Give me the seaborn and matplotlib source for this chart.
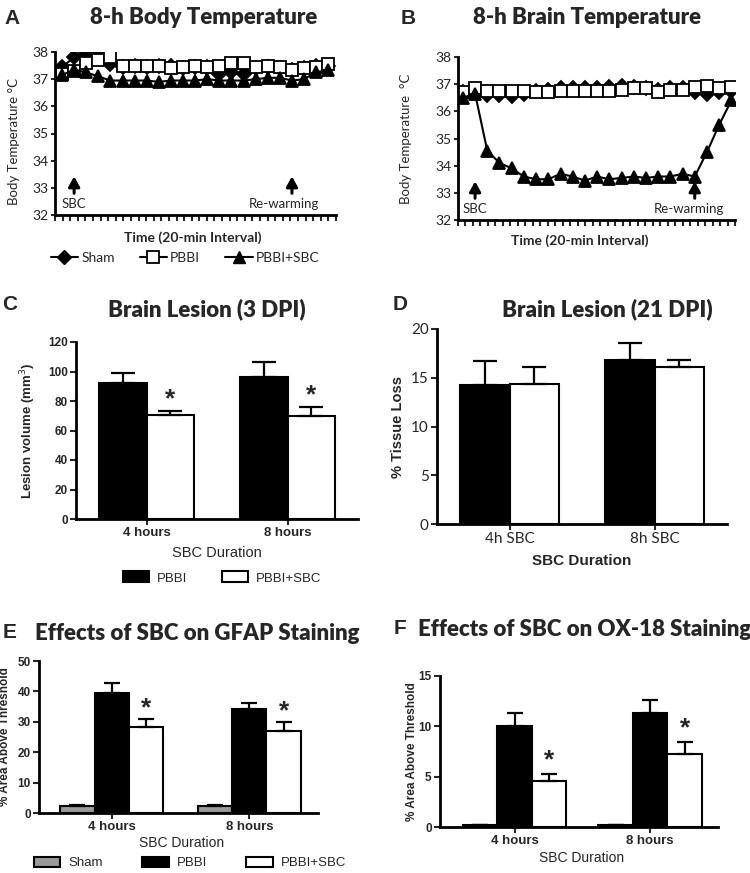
import numpy as np
import pandas as pd
import matplotlib
matplotlib.use("Agg")
import matplotlib.pyplot as plt
import seaborn as sns
from matplotlib.lines import Line2D
from matplotlib.patches import Patch

W, H = 750, 873

# ---------------------------------------------------------------------------
# Data
# ---------------------------------------------------------------------------

# Panels A/B: temperature readings every 20 min
interval = list(range(23))
body_sham = [37.45, 37.8, 37.95, 37.95, 37.55, 37.45, 37.5, 37.45, 37.5, 37.5, 37.4, 37.45,
             37.45, 37.2, 37.25, 37.2, 37.4, 37.45, 37.4, 37.35, 37.4, 37.5, 37.5]
body_pbbi = [37.2, 37.3, 37.6, 37.7, 37.8, 37.5, 37.5, 37.5, 37.5, 37.4, 37.45, 37.5,
             37.45, 37.5, 37.6, 37.6, 37.45, 37.5, 37.45, 37.35, 37.4, 37.45, 37.55]
body_sbc = [37.15, 37.35, 37.25, 37.1, 36.95, 36.95, 36.95, 36.95, 36.9, 36.95, 36.95, 36.95,
            37.0, 36.95, 36.95, 36.95, 37.0, 37.05, 37.05, 36.95, 37.0, 37.25, 37.35]
brain_sham = [36.7, 36.8, 36.6, 36.6, 36.55, 36.65, 36.75, 36.8, 36.85, 36.85, 36.85, 36.85,
              36.9, 36.95, 36.9, 36.85, 36.8, 36.85, 36.85, 36.7, 36.65, 36.7, 36.75]
brain_pbbi = [36.7, 36.85, 36.75, 36.75, 36.75, 36.75, 36.7, 36.7, 36.75, 36.75, 36.75, 36.75,
              36.75, 36.8, 36.85, 36.85, 36.7, 36.8, 36.8, 36.9, 36.95, 36.85, 36.9]
brain_sbc = [36.5, 36.65, 34.55, 34.1, 33.9, 33.6, 33.5, 33.5, 33.7, 33.6, 33.45, 33.6,
             33.5, 33.55, 33.6, 33.55, 33.6, 33.6, 33.7, 33.6, 34.5, 35.5, 36.4]
sbc_start = 1
rewarm_start = 19

# Panel C: lesion volume at 3 DPI
dur_hours = ["4 hours", "8 hours"]
lesion_pbbi = [92.5, 96.5]
lesion_pbbi_sem = [6.5, 9.8]
lesion_sbc = [70.2, 69.5]
lesion_sbc_sem = [3.2, 6.3]

# Panel D: tissue loss at 21 DPI
dur_sbc = ["4h SBC", "8h SBC"]
loss_pbbi = [14.3, 16.85]
loss_pbbi_sem = [2.4, 1.7]
loss_sbc = [14.4, 16.1]
loss_sbc_sem = [1.7, 0.7]

# Panel E: GFAP staining
gfap_sham = [2.4, 2.4]
gfap_sham_sem = [0.3, 0.3]
gfap_pbbi = [39.6, 34.3]
gfap_pbbi_sem = [3.3, 1.9]
gfap_sbc = [28.2, 27.0]
gfap_sbc_sem = [2.7, 2.9]

# Panel F: OX-18 staining
ox_sham = [0.15, 0.15]
ox_sham_sem = [0.05, 0.05]
ox_pbbi = [10.0, 11.35]
ox_pbbi_sem = [1.35, 1.25]
ox_sbc = [4.58, 7.25]
ox_sbc_sem = [0.7, 1.2]

# ---------------------------------------------------------------------------
# Style
# ---------------------------------------------------------------------------

sns.set_theme(style="ticks")
plt.rcParams["font.family"] = ["Liberation Sans", "DejaVu Sans"]
plt.rcParams["axes.linewidth"] = 2.0
plt.rcParams["xtick.major.width"] = 1.5
plt.rcParams["ytick.major.width"] = 1.5
plt.rcParams["axes.edgecolor"] = "black"

CAL = ["Lato", "DejaVu Sans"]
ARIAL = ["Liberation Sans", "DejaVu Sans"]
GREY = "#999999"


def fx(px):
    return px / W


def fy(py):
    return 1 - py / H


def add_axes(fig, left, top, right, bottom):
    return fig.add_axes([fx(left), fy(bottom), (right - left) / W, (bottom - top) / H])


fig = plt.figure(figsize=(W / 100, H / 100), dpi=100)


# ---------------------------------------------------------------------------
# Temperature panels
# ---------------------------------------------------------------------------

def temp_panel(ax, sham, pbbi, sbc, xlim, sbc_lbl_x, rew_lbl_x):
    for vals, mk, fc, ms in [(sham, "D", "black", 7.5), (pbbi, "s", "white", 9),
                             (sbc, "^", "black", 9)]:
        sns.lineplot(x=interval, y=vals, ax=ax, color="black", lw=1.5, marker=mk,
                     markersize=ms, markerfacecolor=fc, markeredgecolor="black",
                     markeredgewidth=1.3)
    ax.set_xlim(*xlim)
    ax.set_ylim(32, 38)
    ax.set_yticks(range(32, 39))
    ax.set_xticks(np.linspace(xlim[0], xlim[1], 38))
    ax.set_xticklabels([])
    ax.tick_params(axis="x", length=4, width=1.5, direction="out")
    ax.tick_params(axis="y", length=3, width=1.5, labelsize=10, pad=2)
    for t in ax.get_yticklabels():
        t.set_family(CAL)
    sns.despine(ax=ax)
    # SBC / re-warming markers
    for xa in (sbc_start, rewarm_start):
        ax.annotate("", xy=(xa, 33.42), xytext=(xa, 32.8),
                    arrowprops=dict(arrowstyle="-|>,head_length=0.5,head_width=0.28",
                                    color="black", lw=2.2, mutation_scale=12,
                                    shrinkA=0, shrinkB=0))
    ax.text(sbc_lbl_x, 32.42, "SBC", ha="center", va="center", fontsize=9.5, family=CAL)
    ax.text(rew_lbl_x, 32.42, "Re-warming", ha="center", va="center", fontsize=9.5,
            family=CAL)


axA = add_axes(fig, 55, 52, 336, 215)
temp_panel(axA, body_sham, body_pbbi, body_sbc, (-0.58, 22.64), 1.0, 18.35)
axA.set_ylabel("Body Temperature °C", fontsize=9.5, family=CAL)
axA.yaxis.set_label_coords(-0.125, 0.45)
axA.set_xlabel("Time (20-min Interval)", fontsize=10, family=CAL, fontweight="bold")
axA.xaxis.set_label_coords(0.49, -0.1)

axB = add_axes(fig, 458, 57, 735, 220)
temp_panel(axB, brain_sham, brain_pbbi, brain_sbc, (-0.4, 22.3), 1.0, 18.5)
axB.set_ylabel("Body Temperature  °C", fontsize=9.5, family=CAL)
axB.yaxis.set_label_coords(-0.165, 0.5)
axB.set_xlabel("Time (20-min Interval)", fontsize=10, family=CAL, fontweight="bold")
axB.xaxis.set_label_coords(0.44, -0.085)

temp_handles = [
    Line2D([0], [0], color="black", lw=1.5, marker="D", markersize=7.5,
           markerfacecolor="black", markeredgecolor="black"),
    Line2D([0], [0], color="black", lw=1.5, marker="s", markersize=9,
           markerfacecolor="white", markeredgecolor="black", markeredgewidth=1.3),
    Line2D([0], [0], color="black", lw=1.5, marker="^", markersize=9,
           markerfacecolor="black", markeredgecolor="black"),
]
fig.legend(temp_handles, ["Sham", "PBBI", "PBBI+SBC"], loc="center",
           bbox_to_anchor=(fx(185), fy(258)), ncol=3, frameon=False,
           handlelength=2.0, handletextpad=0.2, columnspacing=1.8,
           prop={"family": CAL, "size": 10})


# ---------------------------------------------------------------------------
# Bar panels
# ---------------------------------------------------------------------------

def bar_panel(ax, cats, groups, means, sems, colors, width, capsize, star_pad,
              ylim, yticks, xlim):
    rows = []
    for g, m in zip(groups, means):
        for c, v in zip(cats, m):
            rows.append({"dur": c, "grp": g, "val": v})
    df = pd.DataFrame(rows)
    sns.barplot(data=df, x="dur", y="val", hue="grp", hue_order=groups,
                palette=dict(zip(groups, colors)), width=width, edgecolor="black",
                linewidth=1.5, errorbar=None, saturation=1, legend=False, ax=ax)
    bars = list(ax.containers)
    for cont, sem in zip(bars, sems):
        xs = [p.get_x() + p.get_width() / 2 for p in cont]
        hs = [p.get_height() for p in cont]
        ax.errorbar(xs, hs, yerr=[np.zeros(len(sem)), sem], fmt="none", ecolor="black",
                    elinewidth=1.6, capsize=capsize, capthick=1.6, zorder=1)
    if star_pad is not None:
        for p, s in zip(bars[-1], sems[-1]):
            ax.text(p.get_x() + p.get_width() / 2, p.get_height() + s + star_pad, "*",
                    ha="center", va="center", fontsize=19, fontweight="bold",
                    family=ARIAL)
    ax.set_ylim(*ylim)
    ax.set_yticks(yticks)
    ax.set_xlim(*xlim)
    ax.tick_params(axis="both", length=4, width=1.5, direction="out", pad=2)
    sns.despine(ax=ax)


# C
axC = add_axes(fig, 76, 342, 358, 519)
bar_panel(axC, dur_hours, ["PBBI", "PBBI+SBC"], [lesion_pbbi, lesion_sbc],
          [lesion_pbbi_sem, lesion_sbc_sem], ["black", "white"], 0.68, 8.5, 8.0,
          (0, 120), range(0, 121, 20), (-0.5, 1.5))
axC.tick_params(axis="y", labelsize=8.5)
axC.tick_params(axis="x", labelsize=9.5)
for t in axC.get_yticklabels() + axC.get_xticklabels():
    t.set_fontweight("bold")
axC.set_ylabel("Lesion volume (mm$^3$)", fontsize=9.5, fontweight="bold")
axC.yaxis.set_label_coords(-0.135, 0.5)
axC.set_xlabel("SBC Duration", fontsize=10.5)
axC.xaxis.set_label_coords(0.5, -0.15)

fig.legend([Patch(facecolor="black", edgecolor="black", lw=1.5),
            Patch(facecolor="white", edgecolor="black", lw=1.5)],
           ["PBBI", "PBBI+SBC"], loc="center", bbox_to_anchor=(fx(222), fy(578)),
           ncol=2, frameon=False, handlelength=2.0, handleheight=0.9,
           handletextpad=0.6, columnspacing=2.6, prop={"family": ARIAL, "size": 9.5})

# D
axD = add_axes(fig, 437, 329, 727, 524)
bar_panel(axD, dur_sbc, ["PBBI", "PBBI+SBC"], [loss_pbbi, loss_sbc],
          [loss_pbbi_sem, loss_sbc_sem], ["black", "white"], 0.68, 8.5, None,
          (0, 20), range(0, 21, 5), (-0.5, 1.5))
axD.tick_params(axis="both", labelsize=11)
for t in axD.get_yticklabels() + axD.get_xticklabels():
    t.set_family(CAL)
axD.set_ylabel("% Tissue Loss", fontsize=10.5, fontweight="bold")
axD.yaxis.set_label_coords(-0.11, 0.5)
axD.set_xlabel("SBC Duration", fontsize=11, fontweight="bold")
axD.xaxis.set_label_coords(0.5, -0.155)

# E
stain_groups = ["Sham", "PBBI", "PBBI+SBC"]
stain_colors = [GREY, "black", "white"]
axE = add_axes(fig, 39, 661, 318, 813)
bar_panel(axE, dur_hours, stain_groups, [gfap_sham, gfap_pbbi, gfap_sbc],
          [gfap_sham_sem, gfap_pbbi_sem, gfap_sbc_sem], stain_colors, 0.75, 6, 3.6,
          (0, 50), range(0, 51, 10), (-0.53, 1.5))
axE.tick_params(axis="y", labelsize=8.5)
axE.tick_params(axis="x", labelsize=9.5)
for t in axE.get_yticklabels() + axE.get_xticklabels():
    t.set_fontweight("bold")
axE.set_ylabel("% Area Above Threshold", fontsize=8.5, fontweight="bold")
axE.yaxis.set_label_coords(-0.1, 0.5)
axE.set_xlabel("SBC Duration", fontsize=10)
axE.xaxis.set_label_coords(0.51, -0.15)

fig.legend([Patch(facecolor=c, edgecolor="black", lw=1.5) for c in stain_colors],
           stain_groups, loc="center", bbox_to_anchor=(fx(190), fy(863)),
           ncol=3, frameon=False, handlelength=2.0, handleheight=0.8,
           handletextpad=0.6, columnspacing=3.0, prop={"family": ARIAL, "size": 9.5})

# F
axF = add_axes(fig, 440, 676, 718, 827)
bar_panel(axF, dur_hours, stain_groups, [ox_sham, ox_pbbi, ox_sbc],
          [ox_sham_sem, ox_pbbi_sem, ox_sbc_sem], stain_colors, 0.765, 6, 1.35,
          (0, 15), range(0, 16, 5), (-0.55, 1.5))
axF.tick_params(axis="y", labelsize=8.5)
axF.tick_params(axis="x", labelsize=9.5)
for t in axF.get_yticklabels() + axF.get_xticklabels():
    t.set_fontweight("bold")
axF.set_ylabel("% Area Above Threshold", fontsize=8.5, fontweight="bold")
axF.yaxis.set_label_coords(-0.08, 0.5)
axF.set_xlabel("SBC Duration", fontsize=10)
axF.xaxis.set_label_coords(0.51, -0.16)

# ---------------------------------------------------------------------------
# Titles and panel letters
# ---------------------------------------------------------------------------

titles = [
    ("A", 12, 18, "8-h Body Temperature", 204, 18, 16),
    ("B", 408, 18, "8-h Brain Temperature", 587, 18, 16),
    ("C", 10, 305, "Brain Lesion (3 DPI)", 207, 309, 16),
    ("D", 400, 305, "Brain Lesion (21 DPI)", 607, 309, 16),
    ("E", 10, 633, "Effects of SBC on GFAP Staining", 197, 633, 16),
    ("F", 400, 629, "Effects of SBC on OX-18 Staining", 585, 629, 16),
]
for letter, lx, ly, title, tx, ty, ts in titles:
    fig.text(fx(lx), fy(ly), letter, ha="center", va="center", fontsize=15,
             fontweight="bold", family=ARIAL)
    fig.text(fx(tx), fy(ty), title, ha="center", va="center", fontsize=ts,
             fontweight="heavy", family=CAL)

fig.savefig("out.png", dpi=100, facecolor="white")
